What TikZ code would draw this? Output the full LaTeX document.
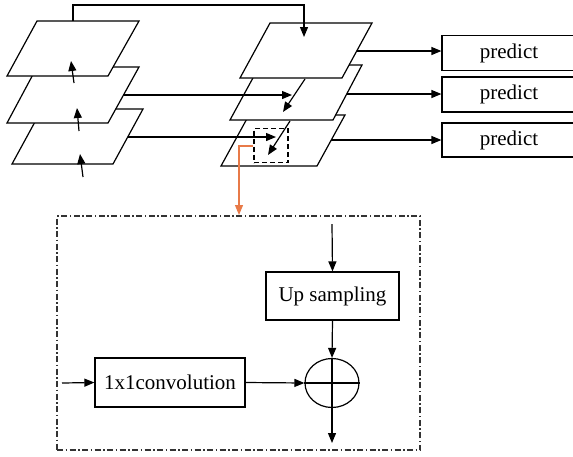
\documentclass[tikz,border=0pt]{standalone}
\usepackage{fontspec}
\setmainfont{Liberation Serif}
\usetikzlibrary{arrows.meta,shapes.geometric}
\definecolor{orangeline}{RGB}{232,122,72}
\begin{document}
\begin{tikzpicture}[x=1pt,y=-1pt,
  line width=1.2pt,
  layer/.style={draw=black,fill=white,line join=miter},
  arr/.style={-{Triangle[length=10pt,width=8pt]}},
  boxnode/.style={draw,fill=white,inner sep=0pt,font=\fontsize{21}{24}\selectfont},
  dashdot/.style={draw=black!80,line width=1.1pt,dash pattern=on 6pt off 2.5pt on 1.5pt off 2.5pt}
]
\useasboundingbox (0,0) rectangle (573,456);
\clip (0,0) rectangle (573,456);
% ---------- left pyramid ----------
\draw[layer] (42,109) -- (143,109) -- (113,164) -- (12,164) -- cycle;
\draw[layer] (37,67) -- (139,67) -- (108,123) -- (7,123) -- cycle;
\draw[layer] (37,21) -- (139,21) -- (108,76) -- (7,76) -- cycle;
% ---------- right pyramid ----------
\draw[layer] (249,115) -- (345,115) -- (317,166) -- (221,166) -- cycle;
\draw[layer] (260,65) -- (362,65) -- (333,120) -- (230,120) -- cycle;
\draw[layer] (270,23) -- (372,23) -- (342,78) -- (240,78) -- cycle;
% coordinates
\coordinate (la1) at (83,177);  \coordinate (lb1) at (80,154);
\coordinate (la2) at (79,131);  \coordinate (lb2) at (77,108);
\coordinate (la3) at (74,83);   \coordinate (lb3) at (71,61);
\coordinate (topS) at (73,21);  \coordinate (topE) at (304,37);
\coordinate (h1s) at (124,95);  \coordinate (h1e) at (292,95);
\coordinate (h2s) at (128,137); \coordinate (h2e) at (276,137);
\coordinate (d1s) at (305,79);  \coordinate (d1e) at (283,112);
\coordinate (d2s) at (290,121); \coordinate (d2e) at (268,155);
\coordinate (p1s) at (357,51);
\coordinate (p2s) at (347,94);
\coordinate (p3s) at (331,140);
% left arrows
\draw[arr] (la1) -- (lb1);
\draw[arr] (la2) -- (lb2);
\draw[arr] (la3) -- (lb3);
% top connector
\draw[arr] (topS) -- (73,5) -| (topE);
% horizontal arrows
\draw[arr] (h1s) -- (h1e);
\draw[arr] (h2s) -- (h2e);
% diagonal arrows
\draw[arr] (d1s) -- (d1e);
\draw[arr] (d2s) -- (d2e);
% dashed box
\node[draw,dashed,line width=1.1pt,minimum width=34pt,minimum height=34pt,inner sep=0pt,
      dash pattern=on 5pt off 3pt] (dbox) at (271,145.5) {};
% predict boxes
\node[boxnode,minimum width=134pt,minimum height=35pt] (pr1) at (509,53) {predict};
\node[boxnode,minimum width=134pt,minimum height=35pt] (pr2) at (509,94.5) {predict};
\node[boxnode,minimum width=134pt,minimum height=34pt] (pr3) at (509,140) {predict};
\draw[arr] (p1s) -- (pr1.west |- p1s);
\draw[arr] (p2s) -- (pr2.west |- p2s);
\draw[arr] (p3s) -- (pr3.west |- p3s);
% detail frame
\node[dashdot,minimum width=363pt,minimum height=234pt,inner sep=0pt] (frame) at (238.5,333) {};
% orange connector
\draw[orangeline,line width=1.2pt,-{Triangle[length=10pt,width=8pt]}]
  (dbox.west |- 0,146) -- (239,146) -- (239,215);
% detail content
\node[boxnode,minimum width=133pt,minimum height=48pt] (up) at (332.5,296) {Up sampling};
\node[boxnode,minimum width=150pt,minimum height=49pt] (conv) at (170,382.5) {1x1convolution};
\node[draw,ellipse,minimum width=54pt,minimum height=49pt,inner sep=0pt] (sum) at (332,383) {};
\draw (sum.north) -- (sum.south);
\draw (sum.west) -- (sum.east);
\coordinate (upin) at (332,224);
\coordinate (convin) at (62,383);
\coordinate (sumout) at (332,443);
\draw[arr] (upin) -- (up.north);
\draw[arr] (up.south) -- (sum.north);
\draw[arr] (convin) -- (conv.west);
\draw[arr] (conv.east) -- (sum.west);
\draw[arr] (sum.south) -- (sumout);
\end{tikzpicture}
\end{document}
